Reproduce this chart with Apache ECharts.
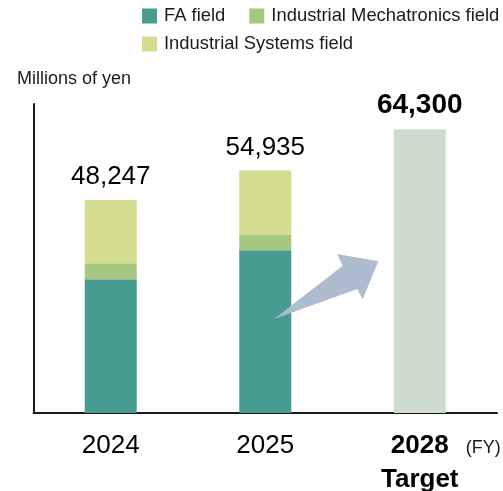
<!DOCTYPE html>
<html>
<head>
<meta charset="utf-8">
<script src="https://cdn.jsdelivr.net/npm/echarts@6/dist/echarts.min.js"></script>
<style>
html,body{margin:0;padding:0;background:#fff;}
#c{width:503px;height:491px;}
</style>
</head>
<body>
<div id="c"></div>
<script>
var categories = ['2024', '2025', '2028\nTarget'];
var faField = [30300, 36850, null];
var mechField = [3650, 3600, null];
var sysField = [14297, 14485, null];
var target2028 = [null, null, 64300];
var totals = [48247, 54935, 64300];
var seriesNames = ['FA field', 'Industrial Mechatronics field', 'Industrial Systems field'];

var FONT = 'Liberation Sans, Arial, sans-serif';
var chart = echarts.init(document.getElementById('c'), null, {renderer: 'canvas'});

function fmt(v) { return v.toLocaleString('en-US'); }

var legendCommon = {
  padding: 0,
  itemWidth: 15,
  itemHeight: 15,
  itemGap: 24,
  icon: 'rect',
  selectedMode: false,
  textStyle: {fontFamily: FONT, fontSize: 18.4, color: '#1a1a1a', padding: [0, 0, 0, 2]}
};

var option = {
  animation: false,
  backgroundColor: '#fff',
  legend: [
    Object.assign({}, legendCommon, {left: 142, top: 7, data: [seriesNames[0], seriesNames[1]]}),
    Object.assign({}, legendCommon, {left: 142, top: 35, data: [seriesNames[2]]})
  ],
  grid: {left: 33.5, right: 6, top: 104, bottom: 78, containLabel: false, outerBoundsMode: 'none'},
  xAxis: {
    type: 'category',
    data: categories,
    axisLine: {show: true, lineStyle: {color: '#1a1a1a', width: 2}},
    axisTick: {show: false},
    axisLabel: {
      margin: 16,
      fontFamily: FONT,
      fontSize: 26,
      lineHeight: 34,
      color: '#000',
      formatter: function (v) {
        if (v.indexOf('\n') >= 0) {
          var p = v.split('\n');
          return '{b|' + p[0] + '}\n{b|' + p[1] + '}';
        }
        return v;
      },
      rich: {b: {fontFamily: FONT, fontSize: 26, lineHeight: 34, fontWeight: 'bold', color: '#000'}}
    }
  },
  yAxis: {
    type: 'value',
    min: 0,
    max: 70000,
    axisLine: {show: true, lineStyle: {color: '#1a1a1a', width: 2}},
    axisTick: {show: false},
    axisLabel: {show: false},
    splitLine: {show: false}
  },
  series: [
    {name: seriesNames[0], type: 'bar', stack: 'a', barWidth: 52, data: faField, itemStyle: {color: '#479b91'}},
    {name: seriesNames[1], type: 'bar', stack: 'a', barWidth: 52, data: mechField, itemStyle: {color: '#a6c77f'}},
    {name: seriesNames[2], type: 'bar', stack: 'a', barWidth: 52, data: sysField, itemStyle: {color: '#d5dc8f'},
      label: {show: true, position: 'top', distance: 10, fontFamily: FONT, fontSize: 26, color: '#000',
        formatter: function (p) { return fmt(totals[p.dataIndex]); }}},
    {name: 'Target', type: 'bar', stack: 'a', barWidth: 52, data: target2028, itemStyle: {color: '#cddccf'},
      label: {show: true, position: 'top', distance: 10, fontFamily: FONT, fontSize: 28, fontWeight: 'bold', color: '#000',
        formatter: function (p) { return fmt(totals[p.dataIndex]); }}}
  ]
};
chart.setOption(option);

// annotation graphics, anchored to the axis scales
var c1 = chart.convertToPixel({xAxisIndex: 0}, categories[1]);
var base = chart.convertToPixel({yAxisIndex: 0}, 0);
var c2 = chart.convertToPixel({xAxisIndex: 0}, categories[2]);
var arrowOffsets = [[8.75, -94], [77.45, -147.3], [72.05, -159], [113.05, -151.7], [97.45, -113.7], [92.05, -124]];
var pts = arrowOffsets.map(function (o) { return [c1 + o[0], base + o[1]]; });

chart.setOption({
  graphic: [
    {type: 'polygon', shape: {points: pts}, style: {fill: '#adbccf'}, z: 10},
    {type: 'text', left: 17, top: 70, style: {text: 'Millions of yen', font: '18px ' + FONT, fill: '#1a1a1a'}},
    {type: 'text', left: c2 + 46, top: base + 26, style: {text: '(FY)', font: '18px ' + FONT, fill: '#1a1a1a'}}
  ]
});
</script>
</body>
</html>
